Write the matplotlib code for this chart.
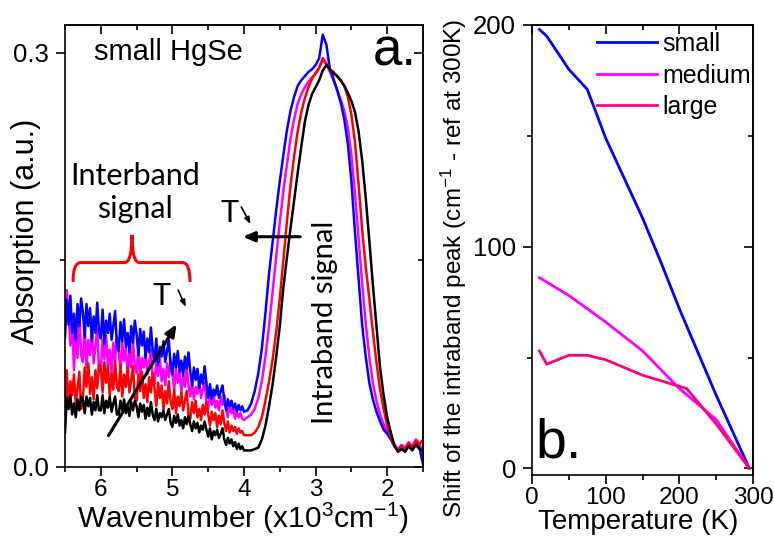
import numpy as np
import matplotlib
matplotlib.use('Agg')
import matplotlib.pyplot as plt
from matplotlib.path import Path
from matplotlib.patches import PathPatch
from matplotlib.ticker import MultipleLocator, FormatStrFormatter

plt.rcParams['font.family'] = ['Liberation Sans', 'DejaVu Sans']
plt.rcParams['mathtext.fontset'] = 'custom'
plt.rcParams['mathtext.rm'] = 'Liberation Sans'
plt.rcParams['mathtext.it'] = 'Liberation Sans'

# ---- panel a: absorption spectra, wavenumber in 10^3 cm-1
# interband part sampled 6.500 .. 4.025 (step 0.025), the rest 4.00 .. 1.50 (step 0.05)
wn_inter = np.round(np.arange(6500, 4000, -25) / 1000, 3)
wn_rest = np.round(np.arange(400, 149, -5) / 100, 2)
wn = np.concatenate([wn_inter, wn_rest])

blue_inter = [
    .094, .121, .103, .124, .097, .111, .092, .118, .102, .122,
    .112, .094, .118, .102, .115, .091, .109, .097, .119, .098,
    .093, .114, .089, .106, .097, .111, .092, .102, .113, .088,
    .084, .105, .091, .107, .087, .097, .083, .102, .090, .106,
    .096, .081, .100, .088, .098, .079, .093, .083, .101, .084,
    .077, .093, .074, .087, .080, .091, .076, .084, .092, .073,
    .067, .082, .072, .084, .069, .077, .066, .080, .071, .083,
    .069, .059, .072, .063, .071, .057, .067, .060, .073, .061,
    .050, .060, .049, .056, .052, .059, .050, .055, .059, .048,
    .041, .049, .044, .048, .042, .046, .040, .045, .041, .044,
]
blue_rest = [
    .040,
    .041, .046, .055, .068, .086, .112, .140, .163, .186, .207,
    .226, .244, .258, .268, .276, .280, .283, .286, .288, .291,
    .296, .313, .306, .288, .281, .273, .264, .252, .234, .207,
    .170, .136, .103, .080, .061, .049, .040, .033, .027,
    .024, .020, .015, .012, .014, .012, .016, .013, .017, .014, .002,
]
magenta_inter = [
    .103, .128, .112, .088, .107, .070, .099, .079, .114, .081,
    .076, .102, .072, .092, .081, .099, .075, .088, .100, .070,
    .070, .092, .078, .095, .073, .085, .069, .090, .077, .094,
    .085, .069, .090, .077, .087, .067, .083, .072, .091, .073,
    .068, .086, .065, .079, .072, .084, .067, .076, .085, .064,
    .060, .077, .066, .079, .062, .071, .059, .075, .065, .078,
    .068, .056, .071, .061, .069, .054, .066, .058, .072, .059,
    .051, .062, .049, .058, .053, .061, .050, .056, .061, .048,
    .042, .052, .045, .053, .043, .048, .041, .051, .045, .052,
    .043, .036, .045, .039, .042, .035, .040, .036, .039, .035,
]
magenta_rest = [
    .034,
    .036, .038, .042, .050, .062, .080, .102, .127, .152, .177,
    .200, .219, .238, .252, .263, .270, .275, .279, .282, .285,
    .289, .295, .292, .286, .280, .273, .266, .258, .246, .226,
    .198, .166, .133, .104, .080, .061, .048, .038, .031,
    .026, .021, .016, .013, .016, .014, .018, .015, .020, .017, .010,
]
red_inter = [
    .033, .070, .043, .062, .052, .067, .046, .057, .069, .042,
    .050, .072, .058, .075, .053, .065, .049, .070, .057, .074,
    .071, .054, .076, .061, .073, .051, .068, .056, .077, .058,
    .055, .074, .051, .067, .058, .072, .054, .063, .073, .050,
    .048, .067, .055, .069, .050, .060, .047, .065, .054, .068,
    .057, .044, .061, .050, .059, .042, .055, .046, .062, .047,
    .042, .056, .039, .051, .044, .054, .041, .048, .055, .038,
    .035, .047, .039, .048, .036, .042, .034, .045, .038, .047,
    .038, .030, .040, .034, .039, .029, .037, .031, .041, .032,
    .026, .033, .025, .030, .026, .029, .024, .028, .025, .026,
]
red_rest = [
    .023,
    .023, .023, .025, .029, .036, .048, .062, .078, .098, .122,
    .150, .178, .204, .225, .243, .257, .267, .275, .281, .285,
    .289, .296, .292, .288, .286, .283, .280, .276, .268, .255,
    .235, .205, .172, .145, .122, .098, .076, .056, .042,
    .030, .022, .015, .012, .015, .013, .017, .014, .019, .016, .020,
]
black_inter = [
    .025, .050, .042, .052, .038, .046, .036, .049, .041, .051,
    .049, .039, .051, .044, .050, .038, .047, .041, .052, .041,
    .041, .052, .039, .048, .043, .051, .040, .046, .051, .038,
    .038, .048, .041, .049, .039, .044, .037, .047, .041, .048,
    .044, .036, .046, .040, .045, .035, .043, .037, .047, .038,
    .034, .042, .033, .039, .036, .041, .034, .038, .042, .032,
    .029, .037, .032, .038, .030, .034, .028, .036, .031, .037,
    .031, .026, .033, .028, .032, .025, .030, .027, .033, .027,
    .022, .028, .020, .026, .023, .027, .021, .024, .028, .020,
    .016, .021, .017, .020, .015, .018, .013, .017, .013, .015,
]
black_rest = [
    .012,
    .012, .012, .013, .014, .020, .030, .044, .060, .080, .102,
    .130, .152, .173, .193, .213, .232, .250, .262, .270, .275,
    .280, .287, .291, .288, .285, .283, .280, .276, .271, .265,
    .257, .243, .222, .195, .164, .132, .102, .072, .052,
    .036, .025, .016, .011, .013, .011, .015, .012, .016, .013, .012,
]

# ---- panel b: peak shift vs temperature
temp_small = [10, 20, 50, 75, 100, 150, 175, 200, 250, 295]
shift_small = [198, 195, 180, 171, 149, 113, 93, 72, 33, 0]
temp_medium = [10, 50, 100, 150, 200, 250, 295]
shift_medium = [86, 78, 66, 53, 36, 22, 0]
temp_large = [10, 20, 50, 75, 100, 150, 210, 250, 295]
shift_large = [53, 47, 51, 51, 49, 42, 36, 20, 0]

fig = plt.figure(figsize=(7.74, 5.38), dpi=100)
ax1 = fig.add_axes([65/774, 71/538, 358/774, 442/538])
ax2 = fig.add_axes([532/774, 63/538, 221/774, 450/538])

lw = 1.8
ax1.plot(wn, magenta_inter + magenta_rest, color='#ff00ff', lw=lw)
ax1.plot(wn, blue_inter + blue_rest, color='#0000ff', lw=lw)
ax1.plot(wn, red_inter + red_rest, color='#ff0000', lw=lw)
ax1.plot(wn, black_inter + black_rest, color='black', lw=lw)

ax1.set_xlim(6.5, 1.5)
ax1.set_ylim(0, 0.32)
ax1.xaxis.set_major_locator(MultipleLocator(1))
ax1.xaxis.set_minor_locator(MultipleLocator(0.5))
ax1.yaxis.set_major_locator(MultipleLocator(0.3))
ax1.yaxis.set_minor_locator(MultipleLocator(0.15))
ax1.yaxis.set_major_formatter(FormatStrFormatter('%.1f'))
ax1.set_xlabel('Wavenumber (x10$^{3}$cm$^{-1}$)', fontsize=21.5)
ax1.set_ylabel('Absorption (a.u.)', fontsize=22)
ax1.xaxis.set_label_coords(0.497, -0.077)
ax1.yaxis.set_label_coords(-0.066, 0.534)

ax2.plot(temp_small, shift_small, color='#0000ff', lw=2, label='small')
ax2.plot(temp_medium, shift_medium, color='#ff00ff', lw=2, label='medium')
ax2.plot(temp_large, shift_large, color='#ff0080', lw=2, label='large')
ax2.set_xlim(0, 300)
ax2.set_ylim(-3, 200)
ax2.xaxis.set_major_locator(MultipleLocator(100))
ax2.xaxis.set_minor_locator(MultipleLocator(50))
ax2.yaxis.set_major_locator(MultipleLocator(100))
ax2.yaxis.set_minor_locator(MultipleLocator(50))
ax2.set_xlabel('Temperature (K)', fontsize=20)
ax2.set_ylabel('Shift of the intraband peak (cm$^{-1}$ - ref at 300K)', fontsize=17.5)
ax2.xaxis.set_label_coords(0.48, -0.075)
ax2.yaxis.set_label_coords(-0.287, 0.46)
ax2.legend(loc='upper left', bbox_to_anchor=(0.294, 0.984), frameon=False, fontsize=18,
           handlelength=2.4, handletextpad=0.2, labelspacing=0.3, borderaxespad=0, borderpad=0)

for ax in (ax1, ax2):
    for s in ax.spines.values():
        s.set_linewidth(1.2)
    ax.tick_params(which='both', direction='out', width=1.2)
    ax.tick_params(which='major', length=6.5)
    ax.tick_params(which='minor', length=3.5)
    ax.tick_params(axis='x', labelsize=17.5, pad=2)
    ax.tick_params(axis='y', labelsize=18.5, pad=5)
    top = ax.secondary_xaxis('top')
    right = ax.secondary_yaxis('right')
    top.xaxis.set_major_locator(ax.xaxis.get_major_locator())
    top.xaxis.set_minor_locator(ax.xaxis.get_minor_locator())
    right.yaxis.set_major_locator(ax.yaxis.get_major_locator())
    right.yaxis.set_minor_locator(ax.yaxis.get_minor_locator())
    for sec in (top, right):
        sec.tick_params(which='both', direction='in', width=1.2, labeltop=False, labelright=False)
        sec.tick_params(which='major', length=6.5)
        sec.tick_params(which='minor', length=3.5)
        for s in sec.spines.values():
            s.set_linewidth(1.2)

# ---- annotations panel a
ax1.text(0.289, 0.921, 'small HgSe', transform=ax1.transAxes, fontsize=21,
         ha='center', va='baseline')
ax1.text(0.922, 0.9095, 'a.', transform=ax1.transAxes, fontsize=38,
         ha='center', va='baseline')
ax1.text(0.1955, 0.638, 'Interband', transform=ax1.transAxes, fontsize=22,
         family='Lato', ha='center', va='baseline')
ax1.text(0.1955, 0.563, 'signal', transform=ax1.transAxes, fontsize=22,
         family='Lato', ha='center', va='baseline')
ax1.text(2.757, 0.105, 'Intraband signal', fontsize=21, family='Lato', rotation=90,
         rotation_mode='anchor', ha='center', va='baseline')
ax1.text(5.15, 0.117, 'T', fontsize=22, family='Lato', ha='center', va='baseline')
ax1.text(4.2, 0.1775, 'T', fontsize=22, family='Lato', ha='center', va='baseline')

arrow_big = dict(arrowstyle='-|>,head_length=0.7,head_width=0.3', color='black', lw=2.2)
arrow_small = dict(arrowstyle='-|>,head_length=0.4,head_width=0.15', color='black', lw=1.2)
ax1.annotate('', xy=(4.922, 0.105), xytext=(5.913, 0.021), arrowprops=arrow_big)
ax1.annotate('', xy=(4.056, 0.1667), xytext=(3.176, 0.1667), arrowprops=arrow_big)
ax1.annotate('', xy=(4.796, 0.114), xytext=(4.936, 0.130), arrowprops=arrow_small)
ax1.annotate('', xy=(3.888, 0.174), xytext=(4.056, 0.190), arrowprops=arrow_small)

# curly brace over the interband region
brace = Path(
    [(6.388, 0.134), (6.388, 0.148), (6.28, 0.148), (5.67, 0.148),
     (5.564, 0.148), (5.564, 0.168), (5.564, 0.148), (5.46, 0.148),
     (4.86, 0.148), (4.754, 0.148), (4.754, 0.134)],
    [Path.MOVETO, Path.CURVE3, Path.CURVE3, Path.LINETO,
     Path.CURVE3, Path.CURVE3, Path.CURVE3, Path.CURVE3,
     Path.LINETO, Path.CURVE3, Path.CURVE3])
ax1.add_patch(PathPatch(brace, facecolor='none', edgecolor='#ff0000', lw=2.2))

ax2.text(0.122, 0.04, 'b.', transform=ax2.transAxes, fontsize=40,
         ha='center', va='baseline')

fig.savefig('out.png', dpi=100)
